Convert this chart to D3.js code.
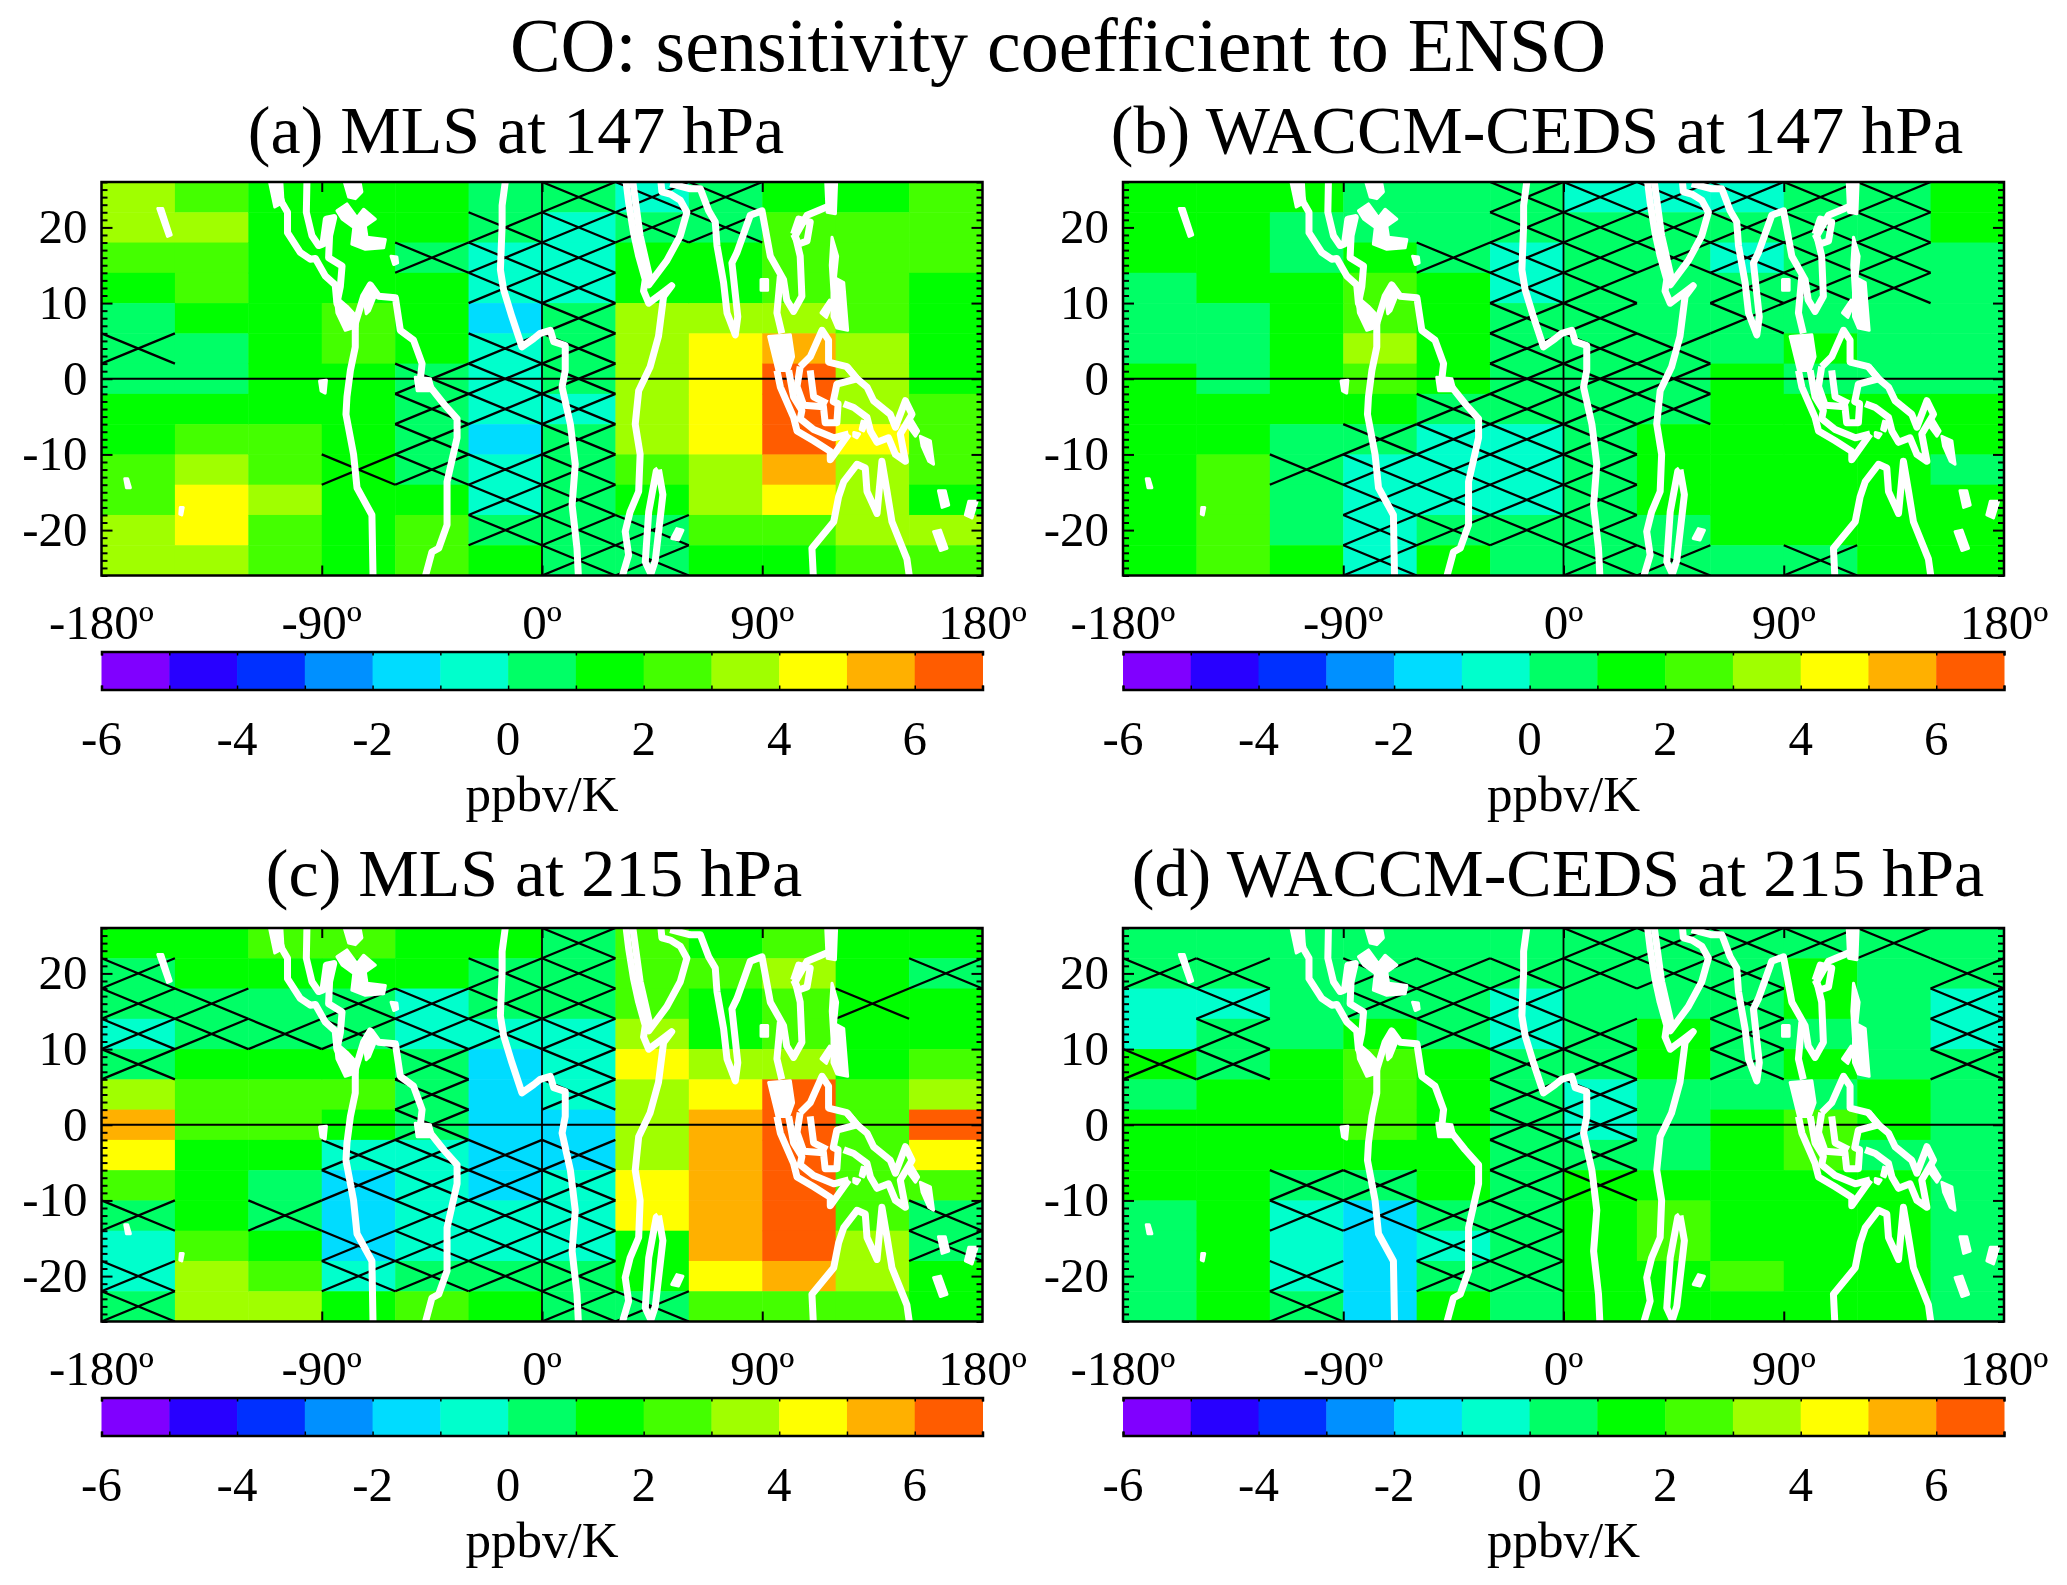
<!DOCTYPE html>
<html>
<head>
<meta charset="utf-8">
<script src="https://cdn.jsdelivr.net/npm/d3@7"></script>
<style>
  html, body { margin: 0; padding: 0; background: #fff; }
  text { font-family: "Liberation Serif", serif; fill: #000; }
</style>
</head>
<body>
<div id="chart"></div>
<script>
// Cell values, one array per 30 degree longitude column, north to south
const mls147 = [
  [3.5,3.5,2.5,1.5,0.5,0.5,0.5,1.5,1.5,2.5,2.5,3.5,3.5],
  [2.5,3.5,2.5,2.5,1.5,0.5,0.5,1.5,2.5,3.5,4.5,4.5,3.5],
  [1.5,1.5,1.5,1.5,1.5,1.5,1.5,1.5,2.5,2.5,3.5,2.5,2.5],
  [1.5,1.5,1.5,1.5,2.5,2.5,1.5,1.5,1.5,1.5,1.5,1.5,1.5],
  [1.5,1.5,0.5,1.5,1.5,1.5,0.5,0.5,0.5,0.5,1.5,2.5,2.5],
  [0.5,0.5,-0.5,-0.5,-1.5,-0.5,-0.5,-0.5,-1.5,-0.5,-0.5,0.5,1.5],
  [0.5,-0.5,-0.5,-0.5,0.5,0.5,0.5,-0.5,0.5,0.5,0.5,0.5,0.5],
  [-0.5,0.5,1.5,1.5,3.5,3.5,3.5,3.5,3.5,2.5,1.5,0.5,0.5],
  [0.5,0.5,1.5,1.5,3.5,4.5,4.5,4.5,4.5,3.5,3.5,2.5,1.5],
  [1.5,2.5,2.5,2.5,3.5,5.5,6.5,6.5,6.5,5.5,4.5,2.5,1.5],
  [1.5,2.5,2.5,2.5,2.5,3.5,3.5,3.5,4.5,3.5,3.5,3.5,2.5],
  [2.5,2.5,2.5,1.5,1.5,1.5,1.5,2.5,2.5,2.5,1.5,3.5,2.5]
];
const waccm147 = [
  [1.5,1.5,1.5,0.5,0.5,0.5,1.5,1.5,1.5,1.5,1.5,1.5,1.5],
  [1.5,1.5,1.5,1.5,0.5,0.5,0.5,1.5,1.5,2.5,2.5,2.5,2.5],
  [1.5,0.5,0.5,1.5,1.5,1.5,1.5,1.5,0.5,0.5,0.5,0.5,1.5],
  [0.5,0.5,1.5,2.5,2.5,3.5,2.5,1.5,0.5,-0.5,-0.5,-0.5,-0.5],
  [0.5,0.5,0.5,1.5,1.5,1.5,1.5,0.5,-0.5,-0.5,-0.5,0.5,1.5],
  [0.5,0.5,-0.5,-0.5,0.5,0.5,0.5,0.5,-0.5,-0.5,-0.5,0.5,0.5],
  [-0.5,0.5,0.5,0.5,0.5,0.5,0.5,0.5,0.5,0.5,0.5,0.5,0.5],
  [-0.5,0.5,0.5,0.5,0.5,0.5,0.5,0.5,1.5,1.5,1.5,0.5,0.5],
  [-0.5,0.5,-0.5,0.5,0.5,0.5,1.5,1.5,1.5,1.5,1.5,1.5,0.5],
  [0.5,0.5,0.5,0.5,0.5,1.5,0.5,1.5,1.5,1.5,1.5,1.5,0.5],
  [0.5,0.5,0.5,0.5,0.5,0.5,0.5,1.5,1.5,1.5,1.5,1.5,1.5],
  [1.5,1.5,0.5,0.5,0.5,0.5,0.5,1.5,1.5,0.5,1.5,1.5,1.5]
];
const mls215 = [
  [1.5,0.5,0.5,-0.5,0.5,3.5,5.5,4.5,2.5,0.5,-0.5,-0.5,0.5],
  [1.5,1.5,0.5,0.5,1.5,2.5,2.5,1.5,1.5,1.5,2.5,3.5,3.5],
  [2.5,1.5,0.5,0.5,1.5,2.5,2.5,1.5,0.5,0.5,1.5,2.5,3.5],
  [2.5,1.5,0.5,0.5,1.5,2.5,1.5,-0.5,-1.5,-1.5,-1.5,-0.5,1.5],
  [1.5,1.5,-0.5,-0.5,0.5,0.5,0.5,-0.5,-0.5,-0.5,-0.5,0.5,2.5],
  [1.5,0.5,0.5,-0.5,-1.5,-1.5,-1.5,-1.5,-1.5,-0.5,-0.5,0.5,1.5],
  [0.5,0.5,0.5,-0.5,-0.5,-0.5,-1.5,-1.5,-0.5,-0.5,-0.5,0.5,0.5],
  [2.5,2.5,2.5,3.5,4.5,3.5,3.5,3.5,4.5,4.5,1.5,1.5,0.5],
  [1.5,2.5,1.5,1.5,3.5,4.5,5.5,5.5,5.5,5.5,5.5,4.5,2.5],
  [2.5,3.5,2.5,2.5,3.5,6.5,6.5,6.5,6.5,6.5,6.5,5.5,2.5],
  [1.5,1.5,1.5,1.5,1.5,2.5,2.5,2.5,2.5,2.5,3.5,3.5,2.5],
  [1.5,0.5,1.5,1.5,2.5,3.5,6.5,4.5,2.5,0.5,0.5,1.5,1.5]
];
const waccm215 = [
  [0.5,0.5,-0.5,-0.5,1.5,0.5,1.5,1.5,1.5,0.5,0.5,0.5,0.5],
  [0.5,0.5,-0.5,0.5,0.5,1.5,1.5,1.5,1.5,1.5,1.5,1.5,1.5],
  [0.5,0.5,0.5,0.5,1.5,1.5,1.5,1.5,0.5,-0.5,-0.5,-0.5,0.5],
  [0.5,0.5,0.5,1.5,2.5,2.5,2.5,1.5,0.5,-1.5,-1.5,-1.5,-1.5],
  [0.5,0.5,0.5,0.5,1.5,1.5,1.5,1.5,1.5,0.5,-0.5,0.5,1.5],
  [0.5,0.5,-0.5,-0.5,0.5,0.5,0.5,0.5,0.5,0.5,0.5,0.5,0.5],
  [0.5,0.5,0.5,0.5,0.5,-0.5,-0.5,0.5,1.5,1.5,1.5,1.5,1.5],
  [0.5,0.5,0.5,1.5,1.5,0.5,0.5,0.5,1.5,2.5,2.5,1.5,1.5],
  [0.5,0.5,0.5,0.5,0.5,0.5,1.5,1.5,1.5,1.5,1.5,2.5,1.5],
  [0.5,1.5,1.5,0.5,1.5,0.5,2.5,2.5,1.5,1.5,1.5,1.5,1.5],
  [0.5,0.5,0.5,0.5,0.5,1.5,1.5,0.5,1.5,1.5,1.5,1.5,1.5],
  [0.5,0.5,-0.5,-0.5,0.5,0.5,0.5,0.5,0.5,0.5,0.5,0.5,0.5]
];

// Hatched (significant) cells, one list of column numbers per row, north to south
const hatchMls147 = [[6,7,8],[5,6,7,8],[4,5,6],[5,6],[6],[0,5,6],[4,5,6],[4,5,6],[4,6],[3,4,5,6],[5,6],[5,6,7],[6,7]];
const hatchWaccm147 = [[5,6,7,8,9,10],[5,6,7,8,9,10],[4,5,6,7,8,9,10],[5,6,8,9,10],[5,6,8],[5,6,7],[5,6,7],[4,5,6,7],[3,4,5,6],[2,3,4,5,6],[3,4,5,6],[3,4,5,6],[3,6,7,9]];
const hatchMls215 = [[6],[0,5,6,11],[0,1,3,4,5,6,10],[0,1,2,3,4,5,6],[0,4,6],[4,6],[4],[3,4,5,6],[3,4,5,6],[0,2,4,5,6,11],[3,4,5,6,11],[0,3,4,5,6],[0,6,7]];
const hatchWaccm215 = [[6,7,8,9,10],[0,1,3,4,5,6,7,8,11],[1,3,4,5,8,11],[1,4,5,6,8,11],[0,1,5,6,8,11],[5,6],[5,6],[5,6],[2,3,5,6],[2,3,4,5],[4,5],[2,4,5],[2]];

const panelTitles = ["(a) MLS at 147 hPa", "(b) WACCM-CEDS at 147 hPa", "(c) MLS at 215 hPa", "(d) WACCM-CEDS at 215 hPa"];
const lonTicks = [-180, -90, 0, 90, 180];
const latTicks = [-20, -10, 0, 10, 20];
const barTicks = [-6, -4, -2, 0, 2, 4, 6];
const barColors = ["#8000ff","#2800ff","#0030ff","#0090ff","#00dcff","#00ffcc","#00ff66","#00ff00","#44ff00","#a0ff00","#ffff00","#ffb000","#ff5c00"];

// Coastlines in lon/lat
const coastLines = [
  // central america and chile
  [[-109,26],[-106.3,23.3],[-104,22],[-104,19.3],[-98.8,16.7],[-94.7,15.8],[-92.6,15.9],[-88.6,13.6],[-84.5,12.4],[-83.8,10],[-81,8.2],[-76.3,7.3],[-76.3,4.2],[-78.3,1.1],[-79.7,-2.4],[-80.1,-4.7],[-77,-10],[-75.6,-14.4],[-69.5,-18],[-69,-27]],
  // south america north and east
  [[-76.3,7.3],[-72.9,10.9],[-70.2,12.4],[-66.8,10.9],[-59.9,10.7],[-57.9,6.4],[-52.5,5.1],[-49,2],[-49.7,0],[-45.6,-1.1],[-40.2,-3.3],[-34.7,-5.3],[-34.7,-7.8],[-38.8,-13.6],[-38.8,-19.3],[-42.2,-22.4],[-45,-22.9],[-48.4,-27]],
  // gulf of mexico
  [[-96,27],[-96.3,22],[-94,18.9],[-91.3,17.6],[-89.5,17.8],[-88.1,21.1],[-85.1,21.3],[-86.8,18.9],[-87.2,16],[-81.7,14.9],[-82.4,12.2],[-83.8,10]],
  // africa west
  [[-14.6,27],[-16.3,22.9],[-16.3,20.2],[-17,14.4],[-15.7,11.8],[-12.3,8.2],[-8.2,4.2],[-3.4,5.3],[-0.7,6],[3.4,6.4],[4.8,4.9],[9.5,4.4],[9.5,1.1],[8.2,-1.1],[11.6,-6],[13.6,-11.3],[12.3,-16.7],[14.3,-22.4],[15,-27]],
  // africa east and red sea
  [[32,-27],[35.4,-23.3],[34,-20.2],[36,-17.6],[39.5,-14.9],[40.1,-10],[38.1,-6],[39.5,-1.6],[44.2,1.6],[47.6,5.6],[49.7,10.9],[53,12.3],[49,11.3],[43.6,10],[41.5,11.6],[42.2,13.1],[39.5,16.2],[37.4,19.3],[35.4,23.3],[34,27]],
  [[36.7,27],[40.1,18.9],[44.2,13.1],[43.6,12.4],[51,15.6],[56.5,18.9],[59.2,22],[56.5,23.6],[52.4,24.4],[49,24.7],[48.3,27]],
  // iran, india, burma, vietnam
  [[52.4,25.8],[60.6,25.1],[64.7,25.1],[68.1,22.2],[70.8,20.7],[71.5,17.6],[74.2,12.7],[75.6,8.7],[79,5.8],[80,8.2],[77.6,15.3],[79.7,16.7],[85.1,21.6],[89.9,22.2],[93.3,16.2],[98.7,13.1],[100,10.4],[102.8,8.9],[106.2,10.9],[105.5,16.2],[103.5,18.9],[108.3,21.6],[117.8,22.9],[119.2,27]],
  [[97.4,13.6],[96,8.7],[98,6]],
  // sumatra and java, two edges
  [[96,1.1],[97.4,-1.1],[102.8,-5.1],[104.2,-6.9],[111,-8.2],[117.8,-9.6],[117.8,-10.7],[125.3,-7.3]],
  [[100.8,1.1],[102.8,-2.4],[106.2,-4.2],[105.5,-5.3],[111,-6.7],[119.2,-7.8],[125.3,-7.3]],
  // borneo
  [[105.5,1.6],[109.6,2.9],[114.4,6.4],[117.1,5.1],[117.1,2.2],[124.6,1.6],[128.7,0],[120.5,-0.7],[119,-3],[121,-3.3],[120.5,-5.8],[115.7,-5.8],[115,-3.7],[106.9,-3.5],[104.2,-1],[105.5,1.6]],
  [[109.6,1.1],[111,-2.4],[116.5,-3.3]],
  // sulawesi and new guinea
  [[124.6,1.6],[128.7,0],[132.8,-1.1],[135.5,-2.9],[142.3,-4.7],[144.4,-6.4],[148.5,-2.9],[151.2,-4.7],[146.4,-7.3],[148.5,-10.9],[144.4,-10],[141.6,-7.8],[136.9,-8.4],[134.2,-6.9],[132.8,-5.1],[127.4,-3.8],[123.3,-3.3]],
  // australia
  [[111,-27],[110.3,-22.4],[119.2,-18.9],[121.2,-15.6],[123.3,-13.6],[128.7,-11.3],[132.1,-11.8],[132.8,-14.9],[136.9,-17.8],[138.9,-10.9],[141,-14.9],[143,-18.9],[149.1,-23.8],[150.5,-27]],
  // madagascar and hainan loops
  [[47.6,-12],[49.4,-15.3],[46.3,-24],[44.5,-25.8],[42.2,-24.2],[43.6,-17.6],[46.7,-12.2],[47.6,-12]],
  [[102.8,19.1],[104.9,21.1],[109.6,20.7],[108.3,18.2],[104.9,17.8],[102.8,19.1]]
];
const coastBlobs = [
  [[-112,27],[-106.5,27],[-105.8,23.3],[-109.2,22.7]],
  [[-84.5,10.9],[-79.7,9.6],[-75.6,8.2],[-75.6,6.9],[-80.4,6.4],[-83.8,8.7]],
  [[-51.8,0.2],[-45.6,0],[-44.3,-1.6],[-51,-1.6]],
  [[-72.9,10.9],[-70.2,12.4],[-68,11],[-70.5,9],[-71.8,8.6]],
  [[-83.8,22.2],[-79.7,23.1],[-75.6,21.3],[-72.9,22.4],[-68.1,21.1],[-72.2,20.2],[-71.5,18.7],[-64,18.4],[-64.7,17.3],[-72.2,17.1],[-77.7,17.8],[-76.9,20],[-81.7,21.1]],
  [[-81.7,27],[-74.9,27],[-73.6,24.7],[-76.3,23.8],[-79,24]],
  [[-61.7,16.2],[-59.3,16.1],[-59,15.3],[-60.6,15.1]],
  [[-90.9,-0.3],[-88.1,-0.2],[-88.6,-1.9],[-90.3,-1.6]],
  [[-157,22.5],[-155,22.5],[-151.5,19],[-153,18.8]],
  [[-170.5,-13.2],[-169.3,-13.2],[-168.2,-14.4],[-169.8,-14.4]],
  [[-147.8,-17],[-146.6,-17],[-147.2,-18],[-148,-17.9]],
  [[92.6,5.6],[101.5,5.8],[102.8,2.9],[100.8,1.1],[96,1.1]],
  [[118.5,18.7],[120.8,16.2],[119.9,13.3],[123.3,12.7],[124.9,6.4],[120.5,6.7],[118.5,8.2],[118.5,11.4],[117.8,15]],
  [[115.8,27],[120.5,27],[119.9,21.8],[116.5,22]],
  [[117.5,10.4],[114,8.7],[116.2,8.1],[118.9,10.1]],
  [[89.5,13.1],[92.2,13.1],[92.2,11.7],[89.5,11.7]],
  [[130.8,-5.6],[132.8,-5.8],[131.4,-6.9],[130,-6.7]],
  [[127.4,-7.1],[129.8,-7.3],[128.7,-7.8],[127.4,-7.6]],
  [[150.5,-5.1],[153.9,-6.9],[152.6,-7.6],[149.8,-6.4]],
  [[154.6,-7.6],[158.7,-8.2],[160,-11.3],[158,-10.9],[155.3,-8.9]],
  [[162,-14.8],[164.8,-14.8],[166.2,-16.7],[163.5,-17]],
  [[174.4,-16.2],[177.8,-16.2],[175.7,-18.4],[173,-18]],
  [[160,-20.2],[162.8,-20],[165.5,-22.4],[162.8,-22.7]],
  [[55.1,-19.8],[57.6,-20],[55.8,-21.3],[53,-21.1]]
];

const width = 2067;
const height = 1585;
const plotW = 881;
const plotH = 393.5;
const colW = 30;
const rowH = 4;

const svg = d3.select("#chart")
    .append("svg")
    .attr("width", width)
    .attr("height", height)
    .style("display", "block");

svg.append("text")
    .attr("x", 1058)
    .attr("y", 71)
    .attr("text-anchor", "middle")
    .style("font-size", "76px")
    .text("CO: sensitivity coefficient to ENSO");

const xLon = d3.scaleLinear().domain([-180, 180]).range([0, plotW]);
const yLat = d3.scaleLinear().domain([26, -26]).range([0, plotH]);
const colorScale = d3.scaleThreshold().domain(d3.range(-5, 7)).range(barColors);
const barScale = d3.scaleLinear().domain([-6, 7]).range([0, plotW]);
const coastPath = d3.line().x(d => xLon(d[0])).y(d => yLat(d[1]));

function drawPanel(i, left, top, values, hatch, titleX, titleY) {
    const g = svg.append("g").attr("transform", "translate(" + left + "," + top + ")");

    g.append("clipPath").attr("id", "clip" + i)
        .append("rect").attr("width", plotW).attr("height", plotH);

    svg.append("text")
        .attr("x", titleX)
        .attr("y", titleY)
        .attr("text-anchor", "middle")
        .style("font-size", "68px")
        .text(panelTitles[i]);

    const map = g.append("g").attr("clip-path", "url(#clip" + i + ")");

    // cells
    const cells = values.flatMap((col, c) => col.map((v, r) => ({c: c, r: r, v: v})));
    map.selectAll("rect.cell")
        .data(cells)
        .join("rect")
        .attr("class", "cell")
        .attr("x", d => xLon(-180 + d.c * colW))
        .attr("y", d => yLat(26 - d.r * rowH))
        .attr("width", d => xLon(-180 + colW) - xLon(-180) + 0.5)
        .attr("height", d => yLat(26 - rowH) - yLat(26) + 0.5)
        .attr("fill", d => colorScale(d.v));

    // hatching, one X per significant cell
    const crosses = hatch.flatMap((cols, r) => cols.map(c => ({c: c, r: r})));
    map.selectAll("path.hatch")
        .data(crosses)
        .join("path")
        .attr("class", "hatch")
        .attr("fill", "none")
        .attr("stroke", "#000")
        .attr("stroke-width", 2.3)
        .attr("d", d => {
            const x0 = xLon(-180 + d.c * colW), x1 = xLon(-180 + (d.c + 1) * colW);
            const y0 = yLat(26 - d.r * rowH), y1 = yLat(26 - (d.r + 1) * rowH);
            return "M" + x0 + "," + y0 + "L" + x1 + "," + y1 + "M" + x1 + "," + y0 + "L" + x0 + "," + y1;
        });

    // zero lines
    map.append("line").attr("x1", 0).attr("x2", plotW).attr("y1", yLat(0)).attr("y2", yLat(0))
        .attr("stroke", "#000").attr("stroke-width", 1.8);
    map.append("line").attr("x1", xLon(0)).attr("x2", xLon(0)).attr("y1", 0).attr("y2", plotH)
        .attr("stroke", "#000").attr("stroke-width", 1.8);

    // coast
    map.selectAll("path.coast")
        .data(coastLines)
        .join("path")
        .attr("class", "coast")
        .attr("fill", "none")
        .attr("stroke", "#fff")
        .attr("stroke-width", 7)
        .attr("stroke-linejoin", "round")
        .attr("d", coastPath);
    map.selectAll("path.blob")
        .data(coastBlobs)
        .join("path")
        .attr("class", "blob")
        .attr("fill", "#fff")
        .attr("stroke", "#fff")
        .attr("stroke-width", 3)
        .attr("stroke-linejoin", "round")
        .attr("d", d => coastPath(d) + "Z");

    // frame and ticks
    g.append("rect").attr("width", plotW).attr("height", plotH)
        .attr("fill", "none").attr("stroke", "#000").attr("stroke-width", 2.5);

    const minorLat = d3.range(-26, 27).filter(d => d % 10 !== 0);
    const axes = [
        [d3.axisLeft(yLat), 0], [d3.axisRight(yLat), plotW]
    ];
    axes.forEach(a => {
        // inside ticks, so the sign of the size is flipped
        const major = g.append("g").attr("transform", "translate(" + a[1] + ",0)")
            .call(a[0].tickValues(latTicks).tickSize(-11).tickFormat(""));
        major.select(".domain").remove();
        major.selectAll("line").attr("stroke-width", 2);
        const minor = g.append("g").attr("transform", "translate(" + a[1] + ",0)")
            .call(a[0].tickValues(minorLat).tickSize(-6).tickFormat(""));
        minor.select(".domain").remove();
        minor.selectAll("line").attr("stroke-width", 2);
    });
    [[d3.axisBottom(xLon), plotH], [d3.axisTop(xLon), 0]].forEach(a => {
        const ax = g.append("g").attr("transform", "translate(0," + a[1] + ")")
            .call(a[0].tickValues([-90, 0, 90]).tickSize(-10).tickFormat(""));
        ax.select(".domain").remove();
        ax.selectAll("line").attr("stroke-width", 2);
    });

    // tick labels
    g.selectAll("text.lat")
        .data(latTicks)
        .join("text")
        .attr("class", "lat")
        .attr("x", -14)
        .attr("y", d => yLat(d) + 16)
        .attr("text-anchor", "end")
        .style("font-size", "49px")
        .text(d => d);
    g.selectAll("text.lon")
        .data(lonTicks)
        .join("text")
        .attr("class", "lon")
        .attr("x", d => xLon(d))
        .attr("y", plotH + 63)
        .attr("text-anchor", "middle")
        .style("font-size", "49px")
        .text(d => d + "\u00ba");

    // colour bar
    const bar = g.append("g").attr("transform", "translate(0," + (plotH + 76) + ")");
    const barH = 38;
    bar.selectAll("rect")
        .data(barColors)
        .join("rect")
        .attr("x", (d, k) => barScale(-6 + k))
        .attr("y", 0)
        .attr("width", barScale(-5) - barScale(-6) + 0.5)
        .attr("height", barH)
        .attr("fill", d => d);
    [[d3.axisTop(barScale), 0], [d3.axisBottom(barScale), barH]].forEach(a => {
        const ax = bar.append("g").attr("transform", "translate(0," + a[1] + ")")
            .call(a[0].tickValues(d3.range(-6, 8)).tickSize(-4).tickFormat(""));
        ax.select(".domain").attr("stroke-width", 2.5);
        ax.selectAll("line").attr("stroke-width", 1.5);
    });
    bar.selectAll("text.bar")
        .data(barTicks)
        .join("text")
        .attr("class", "bar")
        .attr("x", d => barScale(d))
        .attr("y", barH + 65)
        .attr("text-anchor", "middle")
        .style("font-size", "49px")
        .text(d => d);
    bar.append("text")
        .attr("x", plotW / 2)
        .attr("y", barH + 121)
        .attr("text-anchor", "middle")
        .style("font-size", "51px")
        .text("ppbv/K");
}

drawPanel(0, 101.5, 182, mls147, hatchMls147, 516, 153);
drawPanel(1, 1123, 182, waccm147, hatchWaccm147, 1537, 153);
drawPanel(2, 101.5, 928, mls215, hatchMls215, 534, 896);
drawPanel(3, 1123, 928, waccm215, hatchWaccm215, 1558, 896);
</script>
</body>
</html>
